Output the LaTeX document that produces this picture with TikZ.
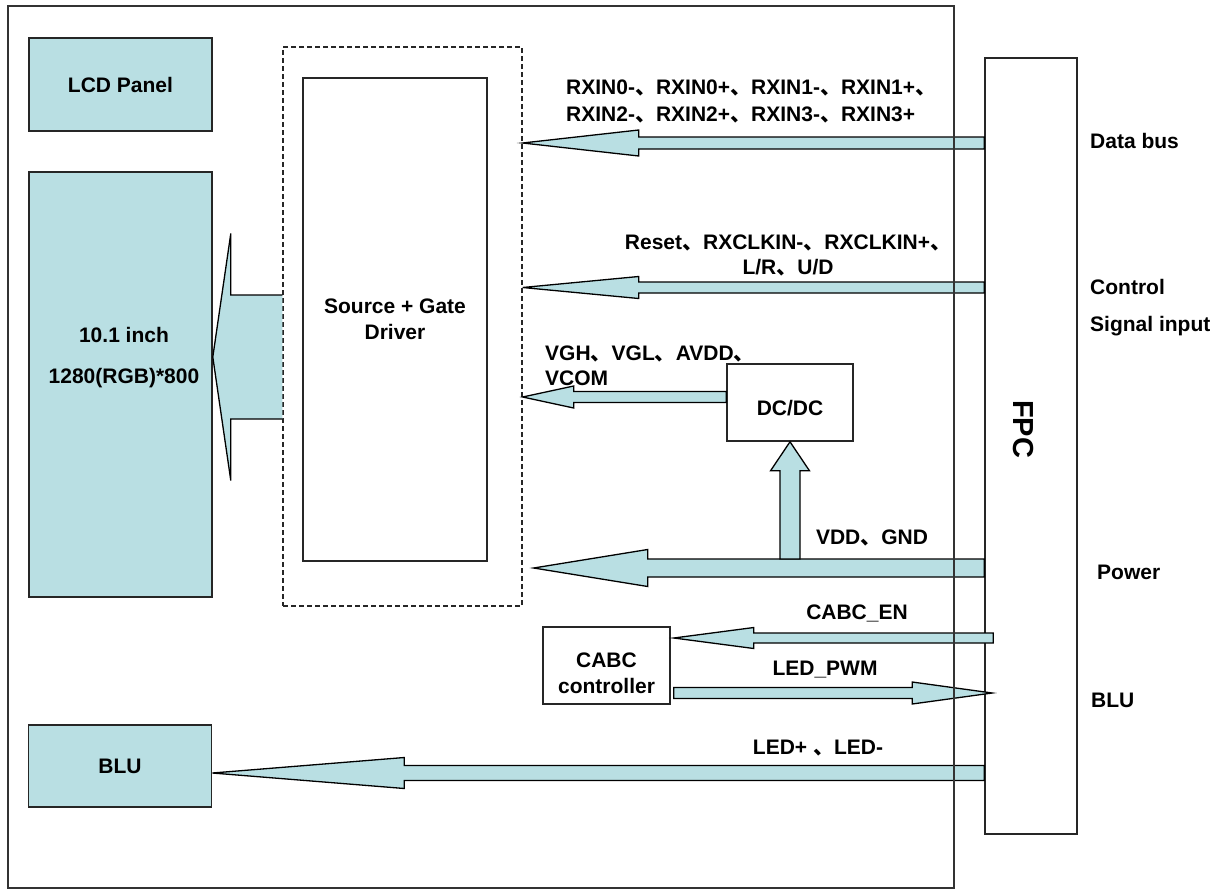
\documentclass[tikz,border=0pt]{standalone}
\usepackage{fontspec}
\setmainfont{Liberation Sans}
\newfontfamily\cjk{Noto Sans CJK SC}
\usetikzlibrary{calc}
\definecolor{lb}{HTML}{B9DFE3}
\newcommand\dn{{\cjk 、}}
% horizontal fat arrow: tip, tail, head length (signed), head half, shaft half
\newcommand\harrow[5]{%
  \path[fat] let \p1=(#1), \p2=(#2) in
    (\x1,\y1) -- (\x1+#3,\y1+#4) -- (\x1+#3,\y1+#5) -- (\x2,\y1+#5)
    -- (\x2,\y1-#5) -- (\x1+#3,\y1-#5) -- (\x1+#3,\y1-#4) -- cycle;}
% vertical fat arrow
\newcommand\varrow[5]{%
  \path[fat] let \p1=(#1), \p2=(#2) in
    (\x1,\y1) -- (\x1+#4,\y1+#3) -- (\x1+#5,\y1+#3) -- (\x1+#5,\y2)
    -- (\x1-#5,\y2) -- (\x1-#5,\y1+#3) -- (\x1-#4,\y1+#3) -- cycle;}
\tikzset{
  box/.style={draw=black!85, line width=1.6pt, inner sep=0pt, align=center,
    font=\fontsize{21}{26}\selectfont\bfseries},
  panel/.style={box, fill=lb},
  lbl/.style={font=\fontsize{21}{26}\selectfont\bfseries, inner sep=0pt},
  fat/.style={draw=black, line width=1.3pt, fill=lb, line join=miter},
}
\begin{document}
\begin{tikzpicture}[x=1pt,y=-1pt]
\useasboundingbox (0,0) rectangle (1226,889);
\fill[white] (0,0) rectangle (1226,889);

% boxes
\node[panel, minimum width=183pt, minimum height=93pt] (lcd) at (120.5,84.5) {LCD Panel};
\node[panel, minimum width=183pt, minimum height=425pt] (panel) at (120.5,384.5) {};
\node[lbl, align=center] (paneltxt) at (124,358) {10.1 inch\\[15pt]1280(RGB)*800};
\node[panel, minimum width=183pt, minimum height=82pt] (blu) at (120,766) {BLU};
\node[draw=black!85, dash pattern=on 5pt off 3pt, line width=1.3pt, minimum width=239pt, minimum height=559pt, inner sep=0pt] (dash) at (402.5,326.5) {};
\node[box, minimum width=184pt, minimum height=483pt] (sgd) at (395,319.5) {Source + Gate\\Driver};
\node[box, minimum width=92pt, minimum height=776pt] (fpc) at (1031,446) {};
\node[lbl, rotate=-90, font=\fontsize{29}{32}\selectfont\bfseries] (fpctxt) at (1023,429) {FPC};

% fat arrows
\harrow{dash.east |- 0,143}{fpc.west |- 0,143}{116pt}{13pt}{6pt}
\harrow{dash.east |- 0,287.5}{fpc.west |- 0,287.5}{116pt}{11pt}{5.5pt}
\harrow{$(dash.east |- 0,568)+(11,0)$}{fpc.west |- 0,568}{114pt}{18.5pt}{9pt}
\harrow{$(blu.east |- 0,773)$}{fpc.west |- 0,773}{192pt}{15.5pt}{7.5pt}

\node[box, minimum width=126pt, minimum height=77pt, fill=white] (dcdc) at (790,402.5) {};
\node[lbl] (dcdctxt) at (790,408) {DC/DC};
\node[box, minimum width=127pt, minimum height=77pt, fill=white] (cabc) at (606.5,665.5) {};
\node[lbl, align=center] (cabctxt) at (606.5,673) {CABC\\controller};

\harrow{dash.east |- 0,397}{dcdc.west |- 0,397}{51pt}{11pt}{5.5pt}
\varrow{dcdc.south}{dcdc.south |- 0,559}{-29pt}{19.5pt}{10pt}
\harrow{$(cabc.east |- 0,638)+(3,0)$}{$(fpc.west |- 0,638)+(9,0)$}{80pt}{10.5pt}{5pt}
\harrow{$(fpc.west |- 0,693)+(8,0)$}{$(cabc.east |- 0,693)+(3,0)$}{-80pt}{11pt}{5.5pt}

% big arrow from driver to panel
\path[fill=lb] let \p1=(panel.east |- 0,357), \p2=(dash.west |- 0,357) in
  (\x1,\y1) -- (\x1+18pt,\y1+123.5pt) -- (\x1+18pt,\y1+62pt) -- (\x2,\y1+62pt)
  -- (\x2,\y1-62pt) -- (\x1+18pt,\y1-62pt) -- (\x1+18pt,\y1-123.5pt) -- cycle;
\draw[line width=1.3pt, line join=miter] let \p1=(panel.east |- 0,357), \p2=(dash.west |- 0,357) in
  (\x2,\y1+62pt) -- (\x1+18pt,\y1+62pt) -- (\x1+18pt,\y1+123.5pt) -- (\x1,\y1)
  -- (\x1+18pt,\y1-123.5pt) -- (\x1+18pt,\y1-62pt) -- (\x2,\y1-62pt);

% labels
\node[lbl, anchor=west, align=left, font=\fontsize{21}{27}\selectfont\bfseries] (rxlbl) at (566,101.5)
  {RXIN0-\dn RXIN0+\dn RXIN1-\dn RXIN1+\dn\\RXIN2-\dn RXIN2+\dn RXIN3-\dn RXIN3+};
\node[lbl, align=center, font=\fontsize{21}{25}\selectfont\bfseries] (ctllbl) at (788,255.5)
  {Reset\dn RXCLKIN-\dn RXCLKIN+\dn\\L/R\dn U/D};
\node[lbl, anchor=west, align=left, font=\fontsize{21}{25}\selectfont\bfseries] (vghlbl) at (545,365.5)
  {VGH\dn VGL\dn AVDD\dn\\VCOM};
\node[lbl] (vddlbl) at (872,538) {VDD\dn GND};
\node[lbl] (enlbl) at (857,613) {CABC\_EN};
\node[lbl] (pwmlbl) at (825,670) {LED\_PWM};
\node[lbl] (ledlbl) at (818,748) {LED+ \dn LED-};

\node[lbl, anchor=west] (rdata) at (1090,141) {Data bus};
\node[lbl, anchor=west] (rctl) at (1090,287) {Control};
\node[lbl, anchor=west] (rsig) at (1090,326) {Signal input};
\node[lbl, anchor=west] (rpow) at (1097,572) {Power};
\node[lbl, anchor=west] (rblu) at (1091,700) {BLU};

% outer frame
\draw[black!80, line width=1.4pt] (8,6) rectangle (954,888);
\end{tikzpicture}
\end{document}
